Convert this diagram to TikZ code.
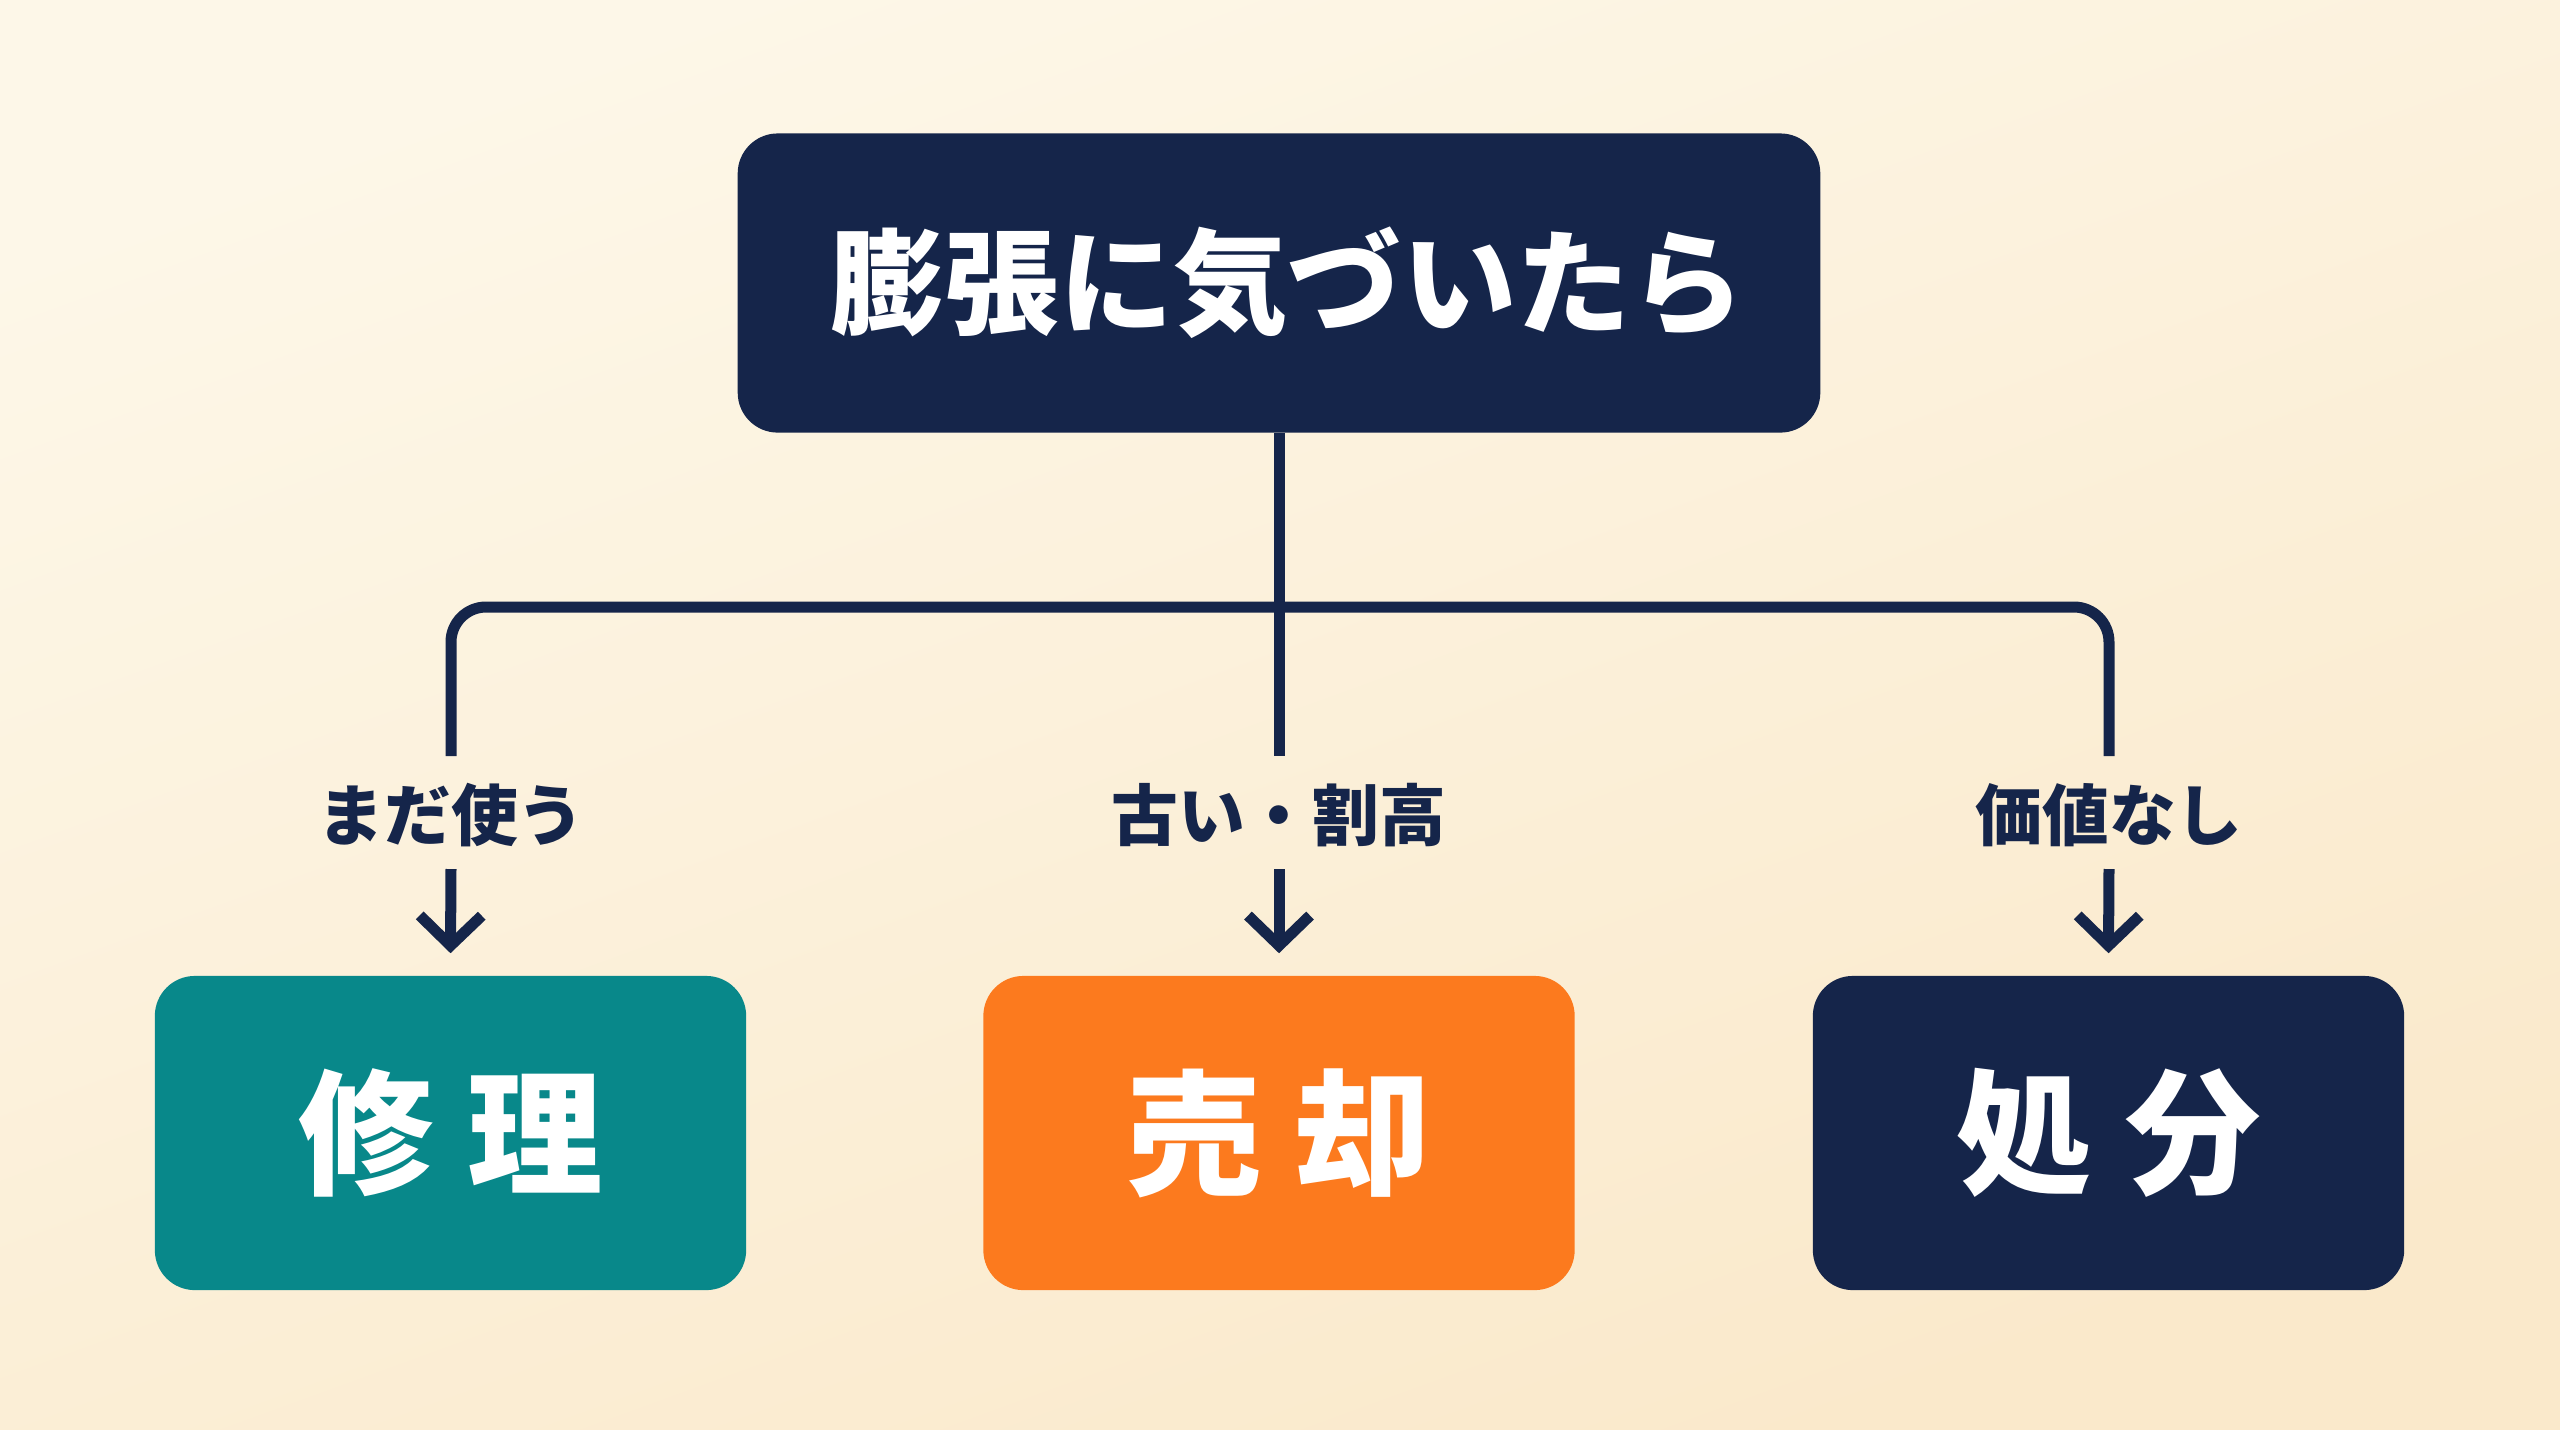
\documentclass[tikz,border=0pt]{standalone}
\usepackage{fontspec}
\setmainfont{Noto Sans CJK JP}
\usetikzlibrary{arrows.meta,calc}
\definecolor{navy}{HTML}{15254A}
\definecolor{teal2}{HTML}{08888A}
\definecolor{orng}{HTML}{FC7A1E}
\definecolor{bgA}{HTML}{FDF7E8}
\definecolor{bgB}{HTML}{FAE9CB}
\tikzset{
  px/.style={x=0.01cm,y=-0.01cm},
  topbox/.style={fill=navy, rounded corners=0.4cm, minimum width=10.82cm, minimum height=2.99cm, text=white, font=\bfseries\fontsize{32.5}{36}\selectfont, inner sep=0pt},
  leafbox/.style={rounded corners=0.4cm, minimum width=5.91cm, minimum height=3.14cm, text=white, font=\bfseries\fontsize{38.5}{42}\selectfont, inner sep=0pt},
  lab/.style={text=navy, font=\bfseries\fontsize{19}{22}\selectfont, inner sep=0pt},
  conn/.style={draw=navy, line width=0.11cm, rounded corners=0.35cm},
  arr/.style={draw=navy, line width=0.11cm, -{Straight Barb[length=0.3cm, width=0.62cm, line width=0.11cm]}}
}
\begin{document}
\begin{tikzpicture}[px]
\shade[top color=bgA, bottom color=bgB, shading angle=20] (0,0) rectangle (2560,1429);
\useasboundingbox (0,0) rectangle (2560,1429);
\node[topbox] (top) at (1279,283) {\hspace*{5pt}膨張に気づいたら};
\coordinate (h) at (1279,607);
\coordinate (e1) at (451,756);
\coordinate (e2) at (1279,756);
\coordinate (e3) at (2109,756);
\draw[conn] (top.south) -- (e2);
\draw[conn] (e1) |- (h) -| (e3);
\node[lab] (l1) at (451,815) {まだ使う};
\node[lab] (l2) at (1279,815) {古い・割高};
\node[lab] (l3) at (2109,815) {価値なし};
\node[leafbox, fill=teal2] (b1) at (450.5,1133) {修\hspace{0.25em}理};
\node[leafbox, fill=orng] (b2) at (1279,1133) {売\hspace{0.25em}却};
\node[leafbox, fill=navy] (b3) at (2108.5,1133) {処\hspace{0.25em}分};
\coordinate (a1) at (451,869);
\coordinate (a2) at (1279,869);
\coordinate (a3) at (2109,869);
\draw[arr] (a1) -- ($(b1.north)+(0,-22)$);
\draw[arr] (a2) -- ($(b2.north)+(0,-22)$);
\draw[arr] (a3) -- ($(b3.north)+(0,-22)$);
\end{tikzpicture}
\end{document}
